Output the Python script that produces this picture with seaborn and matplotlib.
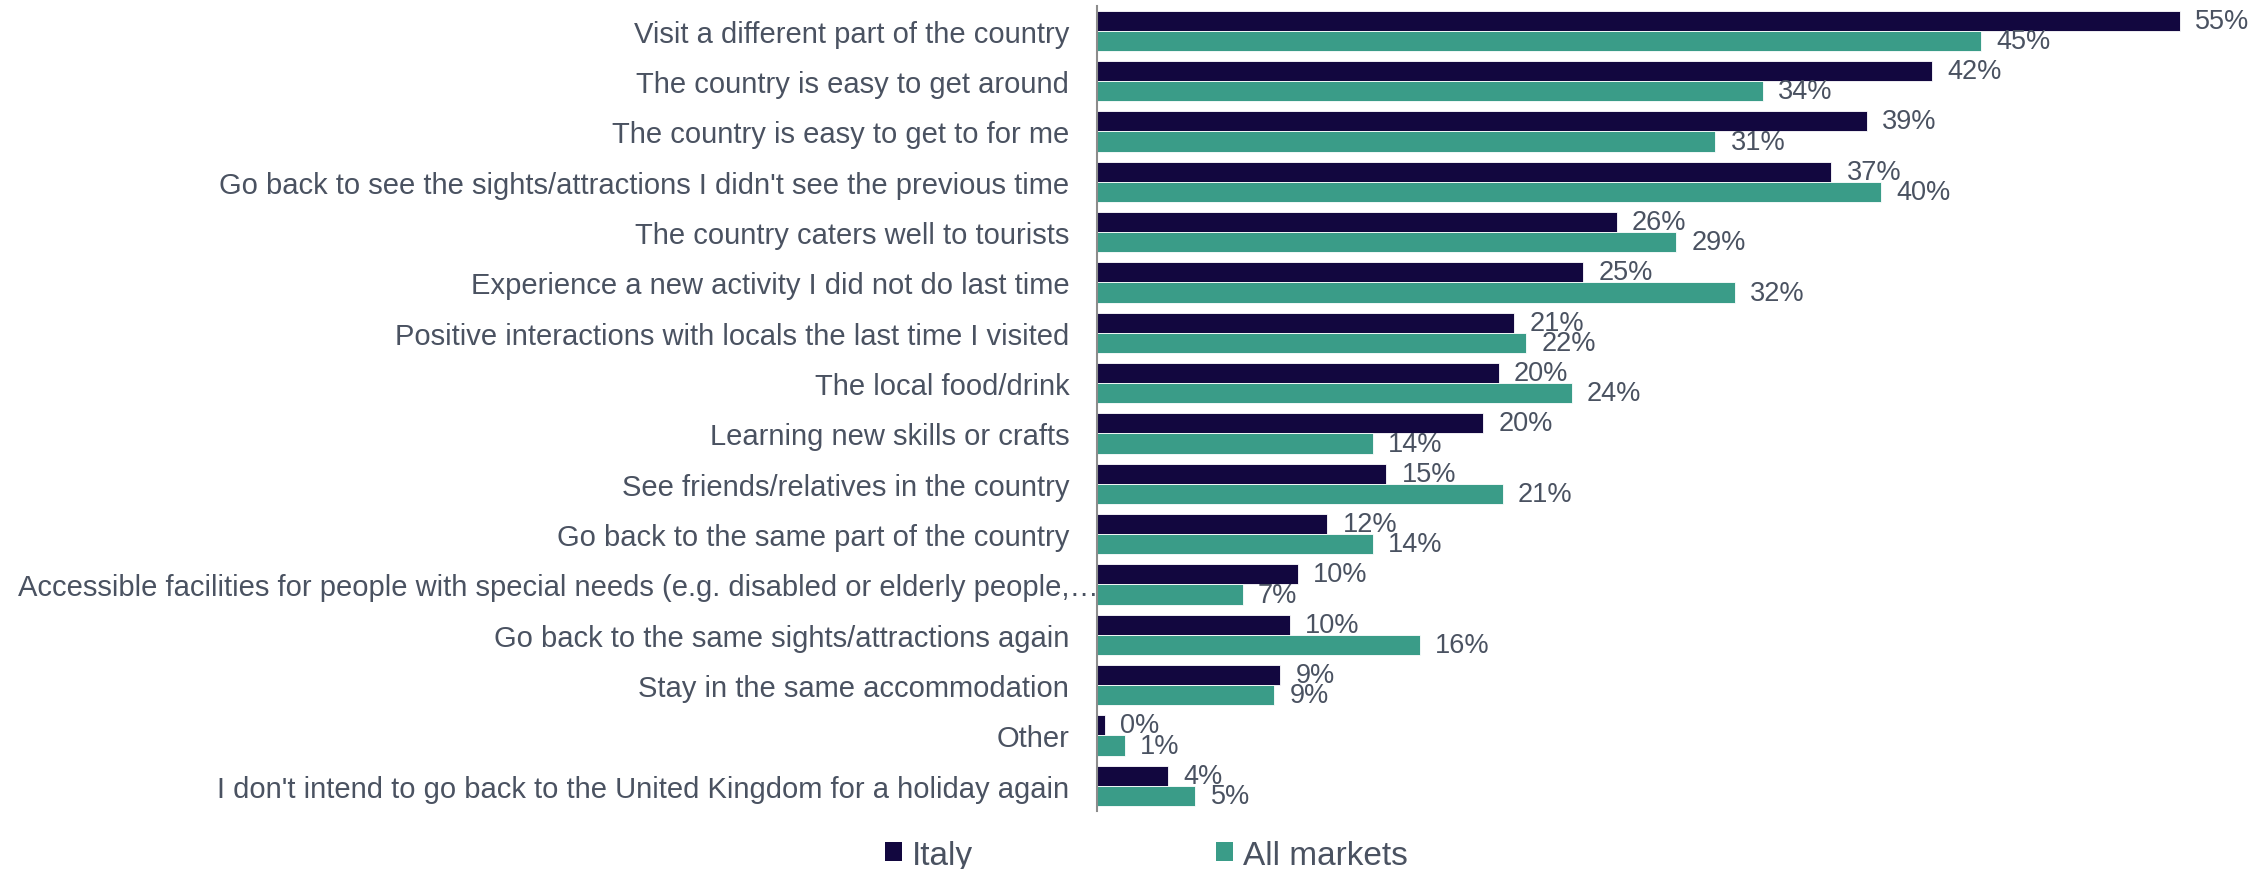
import matplotlib
matplotlib.use("Agg")
import matplotlib.pyplot as plt
from matplotlib.patches import Patch
from matplotlib.transforms import ScaledTranslation
import seaborn as sns
import pandas as pd

categories = [
    "Visit a different part of the country",
    "The country is easy to get around",
    "The country is easy to get to for me",
    "Go back to see the sights/attractions I didn't see the previous time",
    "The country caters well to tourists",
    "Experience a new activity I did not do last time",
    "Positive interactions with locals the last time I visited",
    "The local food/drink",
    "Learning new skills or crafts",
    "See friends/relatives in the country",
    "Go back to the same part of the country",
    "Accessible facilities for people with special needs (e.g. disabled or elderly people,\u2026",
    "Go back to the same sights/attractions again",
    "Stay in the same accommodation",
    "Other",
    "I don't intend to go back to the United Kingdom for a holiday again",
]
italy = [55.0, 42.4, 39.1, 37.3, 26.4, 24.7, 21.2, 20.4, 19.6, 14.7, 11.7, 10.2, 9.8, 9.3, 0.4, 3.6]
all_markets = [44.9, 33.8, 31.4, 39.8, 29.4, 32.4, 21.8, 24.1, 14.0, 20.6, 14.0, 7.4, 16.4, 9.0, 1.4, 5.0]
series_names = ["Italy", "All markets"]
colors = ["#12073F", "#3A9C88"]
text_color = "#4A5261"

df = pd.DataFrame({
    "category": categories * 2,
    "value": italy + all_markets,
    "series": [series_names[0]] * len(categories) + [series_names[1]] * len(categories),
})

sns.set_style("white")
plt.rcParams["font.family"] = ["Liberation Sans", "DejaVu Sans"]

fig = plt.figure(figsize=(22.52, 8.70), dpi=100)
ax = fig.add_axes([0.4871, 0.0667, 0.9947 - 0.4871, 0.9924 - 0.0667])

sns.barplot(
    data=df, y="category", x="value", hue="series", orient="h",
    palette=colors, hue_order=series_names, order=categories,
    width=0.8, gap=0, ax=ax, legend=False, errorbar=None, saturation=1,
    edgecolor="white", linewidth=0.6,
)

for container in ax.containers:
    ax.bar_label(container, fmt=lambda v: f"{v:.0f}%", padding=11,
                 fontsize=19.5, color=text_color)

ax.set_xlim(0, 58.05)
ax.set_ylim(15.5, -0.5)
ax.set_xlabel("")
ax.set_ylabel("")
ax.set_xticks([])
for side in ["top", "right", "bottom"]:
    ax.spines[side].set_visible(False)
ax.spines["left"].set_color("#8C8C8C")
ax.spines["left"].set_linewidth(1.5)
ax.tick_params(axis="y", length=0, pad=20, labelsize=21, labelcolor=text_color)

# the long truncated label runs up to the axis line
fig.canvas.draw()
for lbl in ax.get_yticklabels():
    if lbl.get_text().startswith("Accessible"):
        lbl.set_transform(lbl.get_transform() + ScaledTranslation(0.29, 0, fig.dpi_scale_trans))

handles = [Patch(facecolor=c, edgecolor="none") for c in colors]
fig.legend(handles, series_names, loc="center", bbox_to_anchor=(0.509, 0.016),
           ncol=2, frameon=False, fontsize=24, labelcolor=text_color,
           handlelength=0.5, handleheight=0.5, handletextpad=0.3,
           columnspacing=7.3)

fig.savefig("out.png", dpi=100)
